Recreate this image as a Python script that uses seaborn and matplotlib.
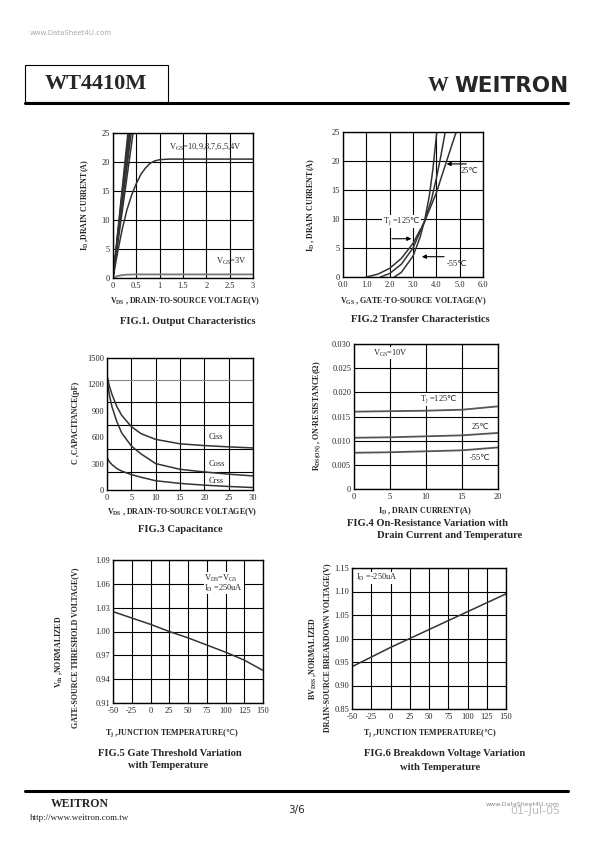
import matplotlib
matplotlib.use('Agg')
import pandas as pd
import matplotlib.pyplot as plt
import seaborn as sns
from matplotlib.lines import Line2D
from matplotlib.patches import Rectangle

# ---- data ----
# FIG.1 output characteristics
steep_vgs = ['10V', '9V', '8V', '7V', '6V', '5V']
steep_vds = [[0, 0.32], [0, 0.335], [0, 0.35], [0, 0.37], [0, 0.39], [0, 0.43]]
steep_id = [[0, 25], [0, 25], [0, 25], [0, 25], [0, 25], [0, 25]]
vgs4_vds = [0, 0.1, 0.2, 0.3, 0.4, 0.5, 0.6, 0.7, 0.8, 0.9, 1.0, 1.2, 3.0]
vgs4_id = [0, 4.5, 8.5, 11.8, 14.3, 16.3, 17.9, 19.0, 19.8, 20.2, 20.4, 20.5, 20.5]
vgs3_vds = [0, 0.1, 0.2, 0.3, 0.5, 3.0]
vgs3_id = [0, 0.35, 0.5, 0.58, 0.62, 0.62]

# FIG.2 transfer characteristics
tj125_vgs = [1.0, 1.5, 2.0, 2.5, 3.0, 3.5, 4.0, 4.4, 4.85]
tj125_id = [0, 0.5, 1.5, 3.2, 5.8, 9.6, 14.5, 19.5, 25]
tj25_vgs = [1.6, 2.0, 2.5, 3.0, 3.5, 3.8, 4.0, 4.2, 4.38]
tj25_id = [0, 0.6, 2.2, 5.0, 9.6, 13.5, 17.0, 21.0, 25]
tjm55_vgs = [2.2, 2.5, 3.0, 3.3, 3.5, 3.7, 3.85, 4.02]
tjm55_id = [0, 0.8, 3.6, 6.8, 9.8, 14.0, 18.5, 25]

# FIG.3 capacitance
cap_vds = [0, 0.5, 1, 2, 3, 5, 7, 10, 15, 20, 25, 30]
ciss = [1300, 1180, 1090, 950, 850, 720, 640, 575, 525, 505, 490, 478]
coss = [1250, 1080, 950, 780, 650, 500, 410, 300, 235, 205, 180, 160]
crss = [370, 320, 290, 245, 215, 175, 145, 105, 75, 55, 40, 28]

# FIG.4 on-resistance
rds_id = [0, 5, 10, 15, 20]
rds_125 = [0.0160, 0.0161, 0.0162, 0.0164, 0.0171]
rds_25 = [0.0106, 0.0107, 0.0109, 0.0111, 0.0116]
rds_m55 = [0.0075, 0.0076, 0.0078, 0.0080, 0.0086]

# FIG.5 gate threshold vs temperature
vth_t = [-50, 0, 25, 50, 75, 100, 125, 150]
vth_n = [1.025, 1.009, 1.000, 0.992, 0.983, 0.974, 0.964, 0.951]

# FIG.6 breakdown voltage vs temperature
bv_t = [-50, 0, 25, 50, 100, 150]
bv_n = [0.940, 0.981, 1.000, 1.019, 1.057, 1.095]

# ---- style ----
sns.set_style('white')
plt.rcParams['font.family'] = ['Liberation Serif', 'DejaVu Sans']
plt.rcParams['mathtext.fontset'] = 'custom'
plt.rcParams['mathtext.rm'] = 'Liberation Serif'
plt.rcParams['mathtext.it'] = 'Liberation Serif:italic'
plt.rcParams['mathtext.bf'] = 'Liberation Serif:bold'
plt.rcParams['mathtext.sf'] = 'DejaVu Sans'
plt.rcParams['axes.unicode_minus'] = False

DEG = r'$\mathsf{℃}$'

W, H = 595, 842
fig = plt.figure(figsize=(W / 100, H / 100), dpi=100)
LC = '#333333'
TICK = 6
LAB = 5.8
TTL = 7.6


def px(x, y):
    return x / W, 1 - y / H


def make_ax(l, t, r, b):
    ax = fig.add_axes([l / W, 1 - b / H, (r - l) / W, (b - t) / H])
    ax.grid(True, color='black', lw=0.8)
    ax.tick_params(length=0, labelsize=TICK, pad=2)
    ax.tick_params(axis='x', pad=3)
    for s in ax.spines.values():
        s.set_color('black')
        s.set_linewidth(1.0)
    return ax


def ftext(x, y, s, **kw):
    kw.setdefault('ha', 'center')
    kw.setdefault('va', 'center')
    fig.text(*px(x, y), s, **kw)


# FIG.1
ax1 = make_ax(113, 133, 253, 278)
for v, xs, ys in zip(steep_vgs, steep_vds, steep_id):
    sns.lineplot(x=xs, y=ys, ax=ax1, color=LC, lw=1.1)
sns.lineplot(x=vgs4_vds, y=vgs4_id, ax=ax1, color=LC, lw=1.1)
sns.lineplot(x=vgs3_vds, y=vgs3_id, ax=ax1, color='#777777', lw=1.3)
ax1.set_xlim(0, 3)
ax1.set_ylim(0, 25)
ax1.set_xticks([0, 0.5, 1, 1.5, 2, 2.5, 3])
ax1.set_xticklabels(['0', '0.5', '1', '1.5', '2', '2.5', '3'])
ax1.set_yticks([0, 5, 10, 15, 20, 25])
ax1.text(1.2, 22.6, r'V$_{\mathrm{GS}}$=10,9,8,7,6,5,4V', fontsize=6, va='center')
ax1.text(2.2, 2.9, r'V$_{\mathrm{GS}}$=3V', fontsize=6, va='center')

# FIG.2
ax2 = make_ax(343, 132, 483, 277)
sns.lineplot(x=tj125_vgs, y=tj125_id, ax=ax2, color=LC, lw=1.1)
sns.lineplot(x=tj25_vgs, y=tj25_id, ax=ax2, color=LC, lw=1.1)
sns.lineplot(x=tjm55_vgs, y=tjm55_id, ax=ax2, color=LC, lw=1.1)
ax2.set_xlim(0, 6)
ax2.set_ylim(0, 25)
ax2.set_xticks([0, 1, 2, 3, 4, 5, 6])
ax2.set_xticklabels(['0.0', '1.0', '2.0', '3.0', '4.0', '5.0', '6.0'])
ax2.set_yticks([0, 5, 10, 15, 20, 25])
arw = dict(arrowstyle='-|>', color='black', lw=0.8, mutation_scale=6)
ax2.annotate('', xy=(4.32, 19.5), xytext=(5.4, 19.5), arrowprops=arw)
ax2.text(5.05, 18.3, '25℃', fontsize=6, va='center')
ax2.text(1.72, 9.6, r'T$_{\mathrm{j}}$ =125' + DEG, fontsize=6, va='center',
         bbox=dict(facecolor='white', edgecolor='none', pad=0.5))
ax2.annotate('', xy=(3.05, 6.6), xytext=(1.98, 6.6), arrowprops=arw)
ax2.annotate('', xy=(3.26, 3.5), xytext=(4.45, 3.5), arrowprops=arw)
ax2.text(4.45, 2.3, '-55℃', fontsize=6, va='center')

# FIG.3
ax3 = make_ax(107, 358, 253, 490)
sns.lineplot(x=cap_vds, y=ciss, ax=ax3, color=LC, lw=1.1)
sns.lineplot(x=cap_vds, y=coss, ax=ax3, color=LC, lw=1.1)
sns.lineplot(x=cap_vds, y=crss, ax=ax3, color=LC, lw=1.1)
ax3.set_xlim(0, 30)
ax3.set_ylim(0, 1500)
ax3.set_xticks([0, 5, 10, 15, 20, 25, 30])
ax3.set_yticks([0, 300, 600, 900, 1200, 1500])
ax3.set_yticks([207, 467, 735, 1000, 1245], minor=True)
ax3.grid(False, axis='y', which='major')
ax3.grid(True, axis='y', which='minor', color='black', lw=0.8)
ax3.tick_params(which='minor', length=0)
ax3.yaxis.get_minor_ticks()[-1].gridline.set_color('#888888')
ax3.text(20.8, 601, 'Ciss', fontsize=6, va='center')
ax3.text(20.8, 295, 'Coss', fontsize=6, va='center')
ax3.text(20.8, 103, 'Crss', fontsize=6, va='center')

# FIG.4
ax4 = make_ax(354, 344, 498, 489)
sns.lineplot(x=rds_id, y=rds_125, ax=ax4, color='#555555', lw=1.3)
sns.lineplot(x=rds_id, y=rds_25, ax=ax4, color='#555555', lw=1.3)
sns.lineplot(x=rds_id, y=rds_m55, ax=ax4, color='#555555', lw=1.3)
ax4.set_xlim(0, 20)
ax4.set_ylim(0, 0.03)
ax4.set_xticks([0, 5, 10, 15, 20])
ax4.set_yticks([0, 0.005, 0.010, 0.015, 0.020, 0.025, 0.030])
ax4.set_yticklabels(['0', '0.005', '0.010', '0.015', '0.020', '0.025', '0.030'])
ax4.text(2.65, 0.0281, r'V$_{\mathrm{GS}}$=10V', fontsize=6, va='center',
         bbox=dict(facecolor='white', edgecolor='none', pad=0.5))
ax4.text(9.2, 0.0185, r'T$_{\mathrm{j}}$ =125' + DEG, fontsize=6, va='center',
         bbox=dict(facecolor='white', edgecolor='none', pad=0.5))
ax4.text(16.4, 0.0129, '25℃', fontsize=6, va='center')
ax4.text(16.0, 0.0065, '-55℃', fontsize=6, va='center')

# FIG.5
ax5 = make_ax(113, 560, 263, 703)
sns.lineplot(x=vth_t, y=vth_n, ax=ax5, color=LC, lw=1.1)
ax5.set_xlim(-50, 150)
ax5.set_ylim(0.91, 1.09)
ax5.set_xticks([-50, -25, 0, 25, 50, 75, 100, 125, 150])
ax5.set_yticks([0.91, 0.94, 0.97, 1.00, 1.03, 1.06, 1.09])
ax5.set_yticklabels(['0.91', '0.94', '0.97', '1.00', '1.03', '1.06', '1.09'])
ax5.text(72, 1.067, r'V$_{\mathrm{DS}}$=V$_{\mathrm{GS}}$', fontsize=6, va='center',
         bbox=dict(facecolor='white', edgecolor='none', pad=0.5))
ax5.text(72, 1.0545, r'I$_{\mathrm{D}}$ =250uA', fontsize=6, va='center',
         bbox=dict(facecolor='white', edgecolor='none', pad=0.5))

# FIG.6
ax6 = make_ax(352, 568, 506, 709)
sns.lineplot(x=bv_t, y=bv_n, ax=ax6, color=LC, lw=1.1)
ax6.set_xlim(-50, 150)
ax6.set_ylim(0.85, 1.15)
ax6.set_xticks([-50, -25, 0, 25, 50, 75, 100, 125, 150])
ax6.set_yticks([0.85, 0.90, 0.95, 1.00, 1.05, 1.10, 1.15])
ax6.set_yticklabels(['0.85', '0.90', '0.95', '1.00', '1.05', '1.10', '1.15'])
ax6.text(-45, 1.129, r'I$_{\mathrm{D}}$ =-250uA', fontsize=6, va='center',
         bbox=dict(facecolor='white', edgecolor='none', pad=0.5))

# ---- axis labels and captions ----
bold = dict(fontsize=LAB, fontweight='bold')
ftext(85, 205, r'I$_{\mathbf{D}}$ ,DRAIN CURRENT(A)', rotation=90, **bold)
ftext(185, 301, r'V$_{\mathbf{DS}}$ , DRAIN-TO-SOURCE VOLTAGE(V)', **bold)
ftext(188, 322, 'FIG.1. Output Characteristics', fontsize=TTL, fontweight='bold')

ftext(311, 205, r'I$_{\mathbf{D}}$ , DRAIN CURRENT(A)', rotation=90, **bold)
ftext(414, 301, r'V$_{\mathbf{GS}}$ , GATE-TO-SOURCE VOLTAGE(V)', **bold)
ftext(420, 320, 'FIG.2 Transfer Characteristics', fontsize=TTL, fontweight='bold')

ftext(76, 423, 'C ,CAPACITANCE(pF)', rotation=90, **bold)
ftext(182, 512, r'V$_{\mathbf{DS}}$ , DRAIN-TO-SOURCE VOLTAGE(V)', **bold)
ftext(180, 530, 'FIG.3 Capacitance', fontsize=TTL, fontweight='bold')

ftext(318, 416, r'R$_{\mathbf{DS(ON)}}$ , ON-RESISTANCE(Ω)', rotation=90, **bold)
ftext(425, 511, r'I$_{\mathbf{D}}$ , DRAIN CURRENT(A)', **bold)
ftext(347, 523, 'FIG.4 On-Resistance Variation with', ha='left', fontsize=TTL, fontweight='bold')
ftext(377, 536, 'Drain Current and Temperature', ha='left', fontsize=TTL, fontweight='bold')

ftext(59, 652, r'V$_{\mathbf{th}}$ ,NORMALIZED', rotation=90, **bold)
ftext(75, 648, 'GATE-SOURCE THRESHOLD VOLTAGE(V)', rotation=90, **bold)
ftext(172, 733, r'T$_{\mathbf{j}}$ ,JUNCTION TEMPERATURE(' + DEG + ')', **bold)
ftext(170, 753, 'FIG.5 Gate Threshold Variation', fontsize=TTL, fontweight='bold')
ftext(168, 766, 'with Temperature', fontsize=TTL, fontweight='bold')

ftext(313, 658, r'BV$_{\mathbf{DSS}}$ ,NORMALIZED', rotation=90, **bold)
ftext(327, 648, 'DRAIN-SOURCE BREAKDOWN VOLTAGE(V)', rotation=90, **bold)
ftext(430, 733, r'T$_{\mathbf{j}}$ ,JUNCTION TEMPERATURE(' + DEG + ')', **bold)
ftext(445, 754, 'FIG.6 Breakdown Voltage Variation', fontsize=TTL, fontweight='bold')
ftext(440, 767, 'with Temperature', fontsize=TTL, fontweight='bold')

# ---- page header / footer ----
ftext(30, 33, 'www.DataSheet4U.com', ha='left', fontsize=5, color='#aaaaaa', family='DejaVu Sans')
fig.add_artist(Rectangle(px(25, 102), 143 / W, 37 / H, transform=fig.transFigure,
                         fill=False, edgecolor='black', lw=0.8))
ftext(96, 84, 'WT4410M', fontsize=16, fontweight='bold')
fig.add_artist(Line2D([25 / W, 568 / W], [1 - 103 / H] * 2, transform=fig.transFigure,
                      color='black', lw=2.2))
ftext(438, 86, 'W', fontsize=15, fontweight='bold')
ftext(511, 86, 'WEITRON', fontsize=15.5, fontweight='bold', family='DejaVu Sans')

fig.add_artist(Line2D([25 / W, 568 / W], [1 - 791 / H] * 2, transform=fig.transFigure,
                      color='black', lw=2.2))
ftext(80, 804, 'WEITRON', fontsize=8.5, fontweight='bold')
ftext(30, 818, 'http://www.weitron.com.tw', ha='left', fontsize=6.5)
ftext(297, 810, '3/6', fontsize=7.5, family='DejaVu Sans')
ftext(560, 805, 'www.DataSheet4U.com', ha='right', fontsize=4.5, color='#888888', family='DejaVu Sans')
ftext(560, 811, '01-Jul-05', ha='right', fontsize=8, color='#bbbbbb', family='DejaVu Sans')

fig.savefig('out.png', dpi=100, facecolor='white')
